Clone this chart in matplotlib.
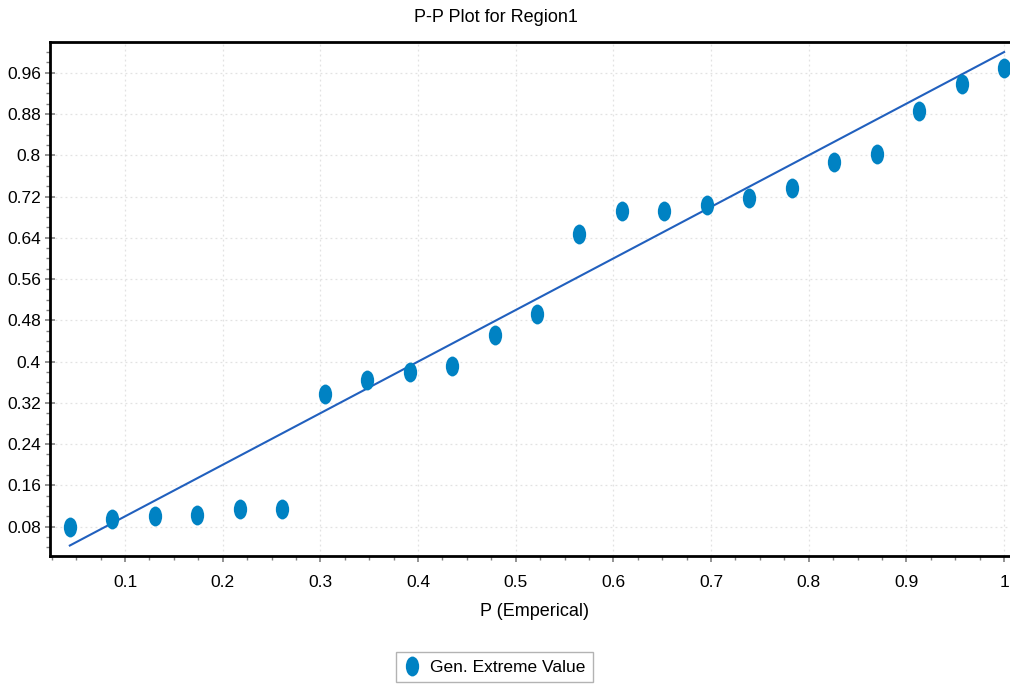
import matplotlib
matplotlib.use("Agg")
import matplotlib.pyplot as plt
import numpy as np
from matplotlib.path import Path
from matplotlib.ticker import MultipleLocator, FixedLocator, FixedFormatter

# ---- data ----
p_empirical = [0.0435, 0.0870, 0.1304, 0.1739, 0.2174, 0.2609, 0.3043, 0.3478,
               0.3913, 0.4348, 0.4783, 0.5217, 0.5652, 0.6087, 0.6522, 0.6957,
               0.7391, 0.7826, 0.8261, 0.8696, 0.9130, 0.9565, 1.0000]
p_theoretical = [0.080, 0.095, 0.101, 0.102, 0.114, 0.114, 0.337, 0.364,
                 0.380, 0.391, 0.452, 0.492, 0.647, 0.692, 0.692, 0.703,
                 0.718, 0.736, 0.787, 0.802, 0.886, 0.939, 0.969]
ref_x = [0.0435, 1.0]
ref_y = [0.0435, 1.0]
xticks = [0.1, 0.2, 0.3, 0.4, 0.5, 0.6, 0.7, 0.8, 0.9, 1.0]
xticklabels = ["0.1", "0.2", "0.3", "0.4", "0.5", "0.6", "0.7", "0.8", "0.9", "1"]
yticks = [0.08, 0.16, 0.24, 0.32, 0.4, 0.48, 0.56, 0.64, 0.72, 0.8, 0.88, 0.96]
yticklabels = ["0.08", "0.16", "0.24", "0.32", "0.4", "0.48", "0.56", "0.64",
               "0.72", "0.8", "0.88", "0.96"]
title = "P-P Plot for Region1"
xlabel = "P (Emperical)"
legend_label = "Gen. Extreme Value"

FONT = ['Liberation Sans Narrow', 'Liberation Sans', 'DejaVu Sans']
plt.rcParams['font.family'] = FONT
FS = 12.5

W, H = 1010, 687
fig = plt.figure(figsize=(W / 100, H / 100), dpi=100)
# axes in pixel coords: left 50, right 1025 (cropped), top 42, bottom 556
L, R, T, B = 50, 1025, 42, 556
ax = fig.add_axes([L / W, 1 - B / H, (R - L) / W, (B - T) / H])

# elliptical marker
circ = Path.unit_circle()
ell = Path(circ.vertices * np.array([0.67, 1.0]), circ.codes)

pt_color = "#0082C3"
line_color = "#2160BE"

ax.plot(ref_x, ref_y, color=line_color, lw=1.5, zorder=3)
ax.plot(p_empirical, p_theoretical, linestyle='none', marker=ell, markersize=14.3,
        color=pt_color, markeredgewidth=0, zorder=4, label=legend_label)

ax.set_xlim(0.0232, 1.0214)
ax.set_ylim(0.0232, 1.0195)

ax.xaxis.set_major_locator(FixedLocator(xticks))
ax.xaxis.set_major_formatter(FixedFormatter(xticklabels))
ax.yaxis.set_major_locator(FixedLocator(yticks))
ax.yaxis.set_major_formatter(FixedFormatter(yticklabels))
ax.xaxis.set_minor_locator(MultipleLocator(0.025))
ax.yaxis.set_minor_locator(MultipleLocator(0.02))

ax.grid(True, which='major', color='#e2e2e2', linestyle=(0, (1.5, 2.5)), lw=0.9, zorder=0)

for s in ['left', 'bottom', 'top']:
    ax.spines[s].set_color('black')
    ax.spines[s].set_linewidth(2.0)
ax.spines['right'].set_visible(False)

ax.tick_params(axis='both', which='major', color='#808080', width=1.2, labelsize=FS)
ax.tick_params(axis='y', which='major', direction='inout', length=7, pad=3)
ax.tick_params(axis='x', which='major', direction='out', length=4, pad=10)
ax.tick_params(axis='both', which='minor', color='#808080', width=1.0, direction='out', length=3)
ax.tick_params(top=False, right=False, which='both')

fig.text(496 / W, 1 - 17 / H, title, ha='center', va='center', fontsize=FS + 0.5)
fig.text(535 / W, 1 - 611 / H, xlabel, ha='center', va='center', fontsize=FS + 0.5)

handles, labels = ax.get_legend_handles_labels()
leg = fig.legend(handles, labels, loc='center', bbox_to_anchor=(494.5 / W, 1 - 667 / H),
                 fontsize=FS, frameon=True, fancybox=False, borderpad=0.45,
                 handletextpad=0.5, handlelength=1.0, borderaxespad=0)
leg.get_frame().set_edgecolor('#a0a0a0')
leg.get_frame().set_linewidth(1.0)

fig.savefig("out.png", dpi=100)
